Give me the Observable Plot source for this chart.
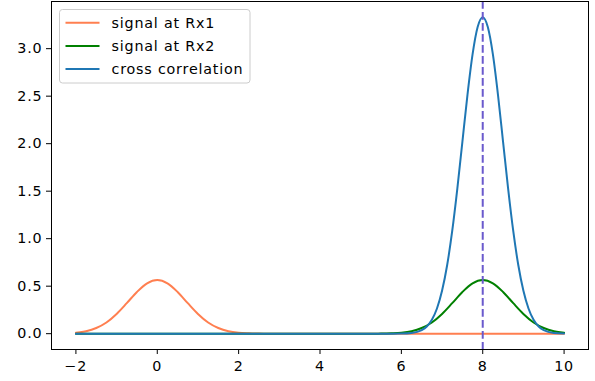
<!DOCTYPE html>
<html>
<head>
<meta charset="utf-8">
<script src="https://cdn.jsdelivr.net/npm/d3@7"></script>
<script src="https://cdn.jsdelivr.net/npm/@observablehq/plot@0.6"></script>
<style>
  html, body { margin: 0; padding: 0; background: #fff; }
  #chart svg { display: block; }
  #chart svg text { letter-spacing: 0.8px; }
</style>
</head>
<body>
<div id="chart"></div>
<script>
// ---- data ----
const seriesNames = ["signal at Rx1", "signal at Rx2", "cross correlation"];
const seriesColors = ["#ff7f50", "#008000", "#1f77b4"];

const rx1X = [-2, -1.75, -1.5, -1.25, -1, -0.75, -0.5, -0.25, 0, 0.25, 0.5, 0.75, 1, 1.25, 1.5, 1.75, 2, 2.25, 2.5, 2.75, 3, 10];
const rx1Y = [0.010, 0.026, 0.060, 0.118, 0.208, 0.321, 0.439, 0.530, 0.564, 0.530, 0.439, 0.321, 0.208, 0.118, 0.060, 0.026, 0.010, 0.004, 0.001, 0.0003, 0, 0];

const rx2X = [-2, 5.25, 5.5, 5.75, 6, 6.25, 6.5, 6.75, 7, 7.25, 7.5, 7.75, 8, 8.25, 8.5, 8.75, 9, 9.25, 9.5, 9.75, 10];
const rx2Y = [0, 0, 0.001, 0.004, 0.010, 0.026, 0.060, 0.118, 0.208, 0.321, 0.439, 0.530, 0.564, 0.530, 0.439, 0.321, 0.208, 0.118, 0.060, 0.026, 0.010];

const corrX = [-2, 5.75, 6, 6.25, 6.5, 6.625, 6.75, 6.875, 7, 7.125, 7.25, 7.375, 7.5, 7.625, 7.75, 7.875, 8,
               8.125, 8.25, 8.375, 8.5, 8.625, 8.75, 8.875, 9, 9.125, 9.25, 9.375, 9.5, 9.75, 10];
const corrY = [0, 0, 0.001, 0.007, 0.037, 0.076, 0.146, 0.265, 0.451, 0.720, 1.081, 1.525, 2.020, 2.514, 2.939, 3.227, 3.330,
               3.227, 2.939, 2.514, 2.020, 1.525, 1.081, 0.720, 0.451, 0.265, 0.146, 0.076, 0.037, 0.007, 0.001];

const peakLag = [8];

const xTicks = [-2, 0, 2, 4, 6, 8, 10];
const yTicks = [0, 0.5, 1.0, 1.5, 2.0, 2.5, 3.0];
const xDomain = [-2.6, 10.6];
const yDomain = [-0.1665, 3.4965];

// ---- chart ----
const W = 595, H = 381;
const font = "DejaVu Sans, sans-serif";
const fs = 14.3;

function pts(xs, ys) { return ys.map((y, i) => ({x: xs[i], y})); }

const plot = Plot.plot({
  width: W,
  height: H,
  marginLeft: 51,
  marginRight: 7,
  marginTop: 1,
  marginBottom: 32,
  style: {fontFamily: font, fontSize: fs + "px", color: "#000", background: "#fff", overflow: "visible"},
  x: {domain: xDomain},
  y: {domain: yDomain},
  marks: [
    Plot.line(pts(rx1X, rx1Y), {x: "x", y: "y", stroke: seriesColors[0], strokeWidth: 2, curve: "monotone-x"}),
    Plot.line(pts(rx2X, rx2Y), {x: "x", y: "y", stroke: seriesColors[1], strokeWidth: 2, curve: "monotone-x"}),
    Plot.line(pts(corrX, corrY), {x: "x", y: "y", stroke: seriesColors[2], strokeWidth: 2, curve: "monotone-x"}),
    Plot.ruleX(peakLag, {stroke: "#6a5acd", strokeWidth: 2, strokeDasharray: "7.7,3.3"}),
    Plot.frame({stroke: "#000", strokeWidth: 1}),
    Plot.axisX(xTicks, {tickSize: 5, tickPadding: 6, tickFormat: d => d < 0 ? "\u2212" + Math.abs(d) : String(d), label: null, fontSize: fs, stroke: "#000"}),
    Plot.axisY(yTicks, {tickSize: 5, tickPadding: 4, tickFormat: d => d.toFixed(1), label: null, fontSize: fs, stroke: "#000"})
  ]
});

document.getElementById("chart").appendChild(plot);

// ---- legend (matplotlib style, inside upper-left) ----
const svg = d3.select(plot);
const lg = svg.append("g").attr("transform", "translate(59.5,9.5)")
  .attr("text-anchor", "start")
  .style("font-family", font).style("font-size", fs + "px");
lg.append("rect").attr("width", 190.5).attr("height", 73.5).attr("rx", 3).attr("ry", 3)
  .attr("fill", "#fff").attr("fill-opacity", 0.8).attr("stroke", "#cccccc").attr("stroke-width", 1);
seriesNames.forEach((name, i) => {
  const cy = 13.2 + i * 23.2;
  lg.append("line").attr("x1", 6).attr("x2", 40).attr("y1", cy).attr("y2", cy)
    .attr("stroke", seriesColors[i]).attr("stroke-width", 2);
  lg.append("text").attr("x", 52).attr("y", cy).attr("dy", "0.35em")
    .attr("text-anchor", "start").attr("fill", "#000").text(name);
});
</script>
</body>
</html>
